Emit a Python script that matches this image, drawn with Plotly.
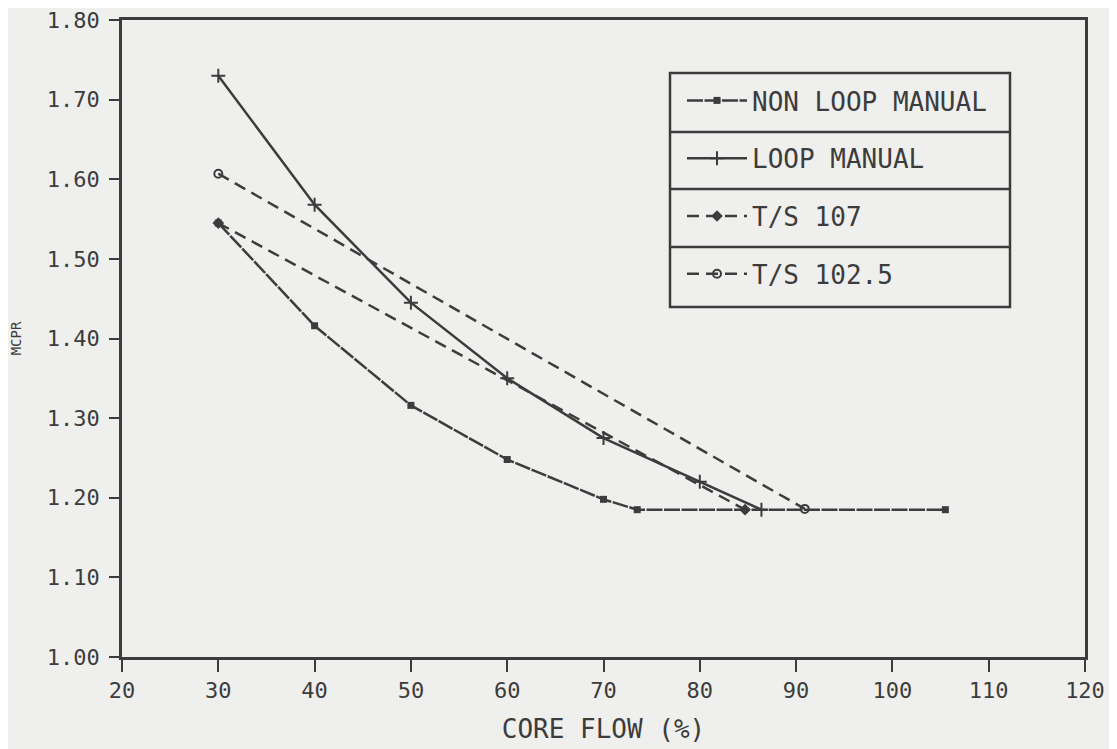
import plotly.graph_objects as go

# ---- data ----
flow_non_loop = [30, 40, 50, 60, 70, 73.5, 105.5]
mcpr_non_loop = [1.545, 1.416, 1.316, 1.248, 1.198, 1.185, 1.185]

flow_loop = [30, 40, 50, 60, 70, 80, 86.4]
mcpr_loop = [1.730, 1.568, 1.445, 1.350, 1.275, 1.220, 1.185]

flow_ts107 = [30, 84.7]
mcpr_ts107 = [1.545, 1.185]

flow_ts1025 = [30, 90.9]
mcpr_ts1025 = [1.607, 1.186]

series_names = ["NON LOOP MANUAL", "LOOP MANUAL", "T/S 107", "T/S 102.5"]
x_ticks = [20, 30, 40, 50, 60, 70, 80, 90, 100, 110, 120]
y_ticks = [1.0, 1.1, 1.2, 1.3, 1.4, 1.5, 1.6, 1.7, 1.8]

INK = "#3c3c3c"
BG = "#efefed"
FONT = "DejaVu Sans Mono"

fig = go.Figure()
fig.add_trace(go.Scatter(
    x=flow_non_loop, y=mcpr_non_loop, name=series_names[0], legendgroup="a",
    mode="lines+markers",
    line=dict(color=INK, width=2.5, dash="16px,1.5px"),
    marker=dict(symbol="square", size=7, color=INK)))
fig.add_trace(go.Scatter(
    x=flow_loop, y=mcpr_loop, name=series_names[1], legendgroup="b",
    mode="lines+markers",
    line=dict(color=INK, width=2.5),
    marker=dict(symbol="cross-thin", size=10, line=dict(color=INK, width=2))))
fig.add_trace(go.Scatter(
    x=flow_ts107, y=mcpr_ts107, name=series_names[2], legendgroup="c",
    mode="lines+markers",
    line=dict(color=INK, width=2.5, dash="12px,7px"),
    marker=dict(symbol="diamond", size=9, color=INK)))
fig.add_trace(go.Scatter(
    x=flow_ts1025, y=mcpr_ts1025, name=series_names[3], legendgroup="d",
    mode="lines+markers",
    line=dict(color=INK, width=2.5, dash="12px,7px"),
    marker=dict(symbol="circle-open", size=8, line=dict(color=INK, width=2))))

# screenshot-pixel -> paper conversion (plot area spans x 122..1085, y 20..657 on screen)
def px_to_paper_x(px):
    return (px - 122) / 963.0

def px_to_paper_y(py):
    return (657 - py) / 637.0

lx0, lx1 = px_to_paper_x(670), px_to_paper_x(1010)
rows = [73, 132, 189, 247, 307]
shapes = [dict(type="rect", xref="paper", yref="paper",
               x0=lx0, x1=lx1, y0=px_to_paper_y(rows[-1]), y1=px_to_paper_y(rows[0]),
               line=dict(color=INK, width=2.5))]
for r in rows[1:-1]:
    shapes.append(dict(type="line", xref="paper", yref="paper",
                       x0=lx0, x1=lx1, y0=px_to_paper_y(r), y1=px_to_paper_y(r),
                       line=dict(color=INK, width=2.5)))

# page body has an 8px margin, so the figure is offset by 8px
fig.update_layout(
    width=1109, height=741,
    margin=dict(l=114, r=32, t=12, b=92),
    paper_bgcolor=BG, plot_bgcolor=BG,
    font=dict(family=FONT, color=INK),
    shapes=shapes,
    showlegend=True,
    legend=dict(
        x=px_to_paper_x(682), y=px_to_paper_y(77),
        xanchor="left", yanchor="top",
        bgcolor="rgba(0,0,0,0)",
        font=dict(family=FONT, size=26, color=INK),
        tracegroupgap=21,
        itemwidth=60,
    ),
    xaxis=dict(
        range=[20, 120], tickvals=x_ticks, ticktext=[str(v) for v in x_ticks],
        showgrid=False, zeroline=False, automargin=False,
        showline=True, linecolor=INK, linewidth=2.5, mirror=True,
        ticks="outside", ticklen=12, tickwidth=2, tickcolor=INK,
        tickfont=dict(family=FONT, size=22, color=INK),
        title=dict(text="CORE FLOW (%)", font=dict(family=FONT, size=26, color=INK), standoff=18),
    ),
    yaxis=dict(
        range=[1.0, 1.8], tickvals=y_ticks, ticktext=[f"{v:.2f}" for v in y_ticks],
        showgrid=False, zeroline=False, automargin=False,
        ticklabeloverflow="allow", ticklabelstandoff=5,
        showline=True, linecolor=INK, linewidth=2.5, mirror=True,
        ticks="outside", ticklen=10, tickwidth=2, tickcolor=INK,
        tickfont=dict(family=FONT, size=22, color=INK),
        title=dict(text="MCPR", font=dict(family=FONT, size=14, color=INK), standoff=25),
    ),
)

fig.write_html("out.html")
